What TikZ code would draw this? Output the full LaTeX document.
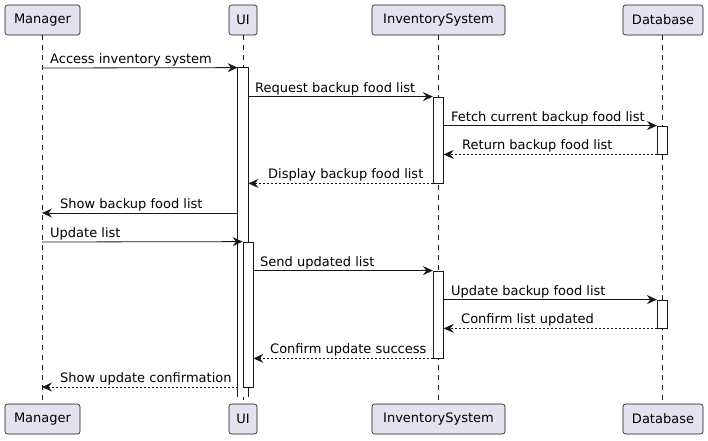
\documentclass[tikz,border=0pt]{standalone}
\usepackage{fontspec}
\setmainfont{DejaVu Sans}
\usetikzlibrary{arrows.meta}
\definecolor{partfill}{HTML}{E2E2F0}
\definecolor{ink}{HTML}{181818}
\begin{document}
\begin{tikzpicture}[x=1pt,y=-1pt,
 part/.style={draw=ink, fill=partfill, rounded corners=2.5pt, minimum height=30pt, inner sep=0pt, line width=0.6pt, font=\fontsize{13}{15}\selectfont, text=black},
 life/.style={draw=ink, dash pattern=on 5pt off 5pt, line width=0.5pt},
 actbox/.style={draw=ink, fill=white, line width=0.8pt, minimum width=10pt, inner sep=0pt},
 msg/.style={draw=ink, line width=0.8pt, -{Stealth[length=10pt,width=9pt,inset=3.5pt]}},
 ret/.style={msg, dash pattern=on 2pt off 2pt},
 lbl/.style={anchor=base west, inner sep=0pt, font=\fontsize{13}{15}\selectfont, text=black}
]
\useasboundingbox (0,0) rectangle (708,440);

% participants (top)
\node[part, minimum width=75pt]  (manT) at (42.5,20) {Manager};
\node[part, minimum width=28pt]  (uiT)  at (243,20)  {UI};
\node[part, minimum width=133pt] (invT) at (438.5,20) {InventorySystem};
\node[part, minimum width=80pt]  (dbT)  at (663,20)  {Database};
% participants (bottom)
\node[part, minimum width=75pt]  (manB) at (42.5,419) {Manager};
\node[part, minimum width=28pt]  (uiB)  at (243,419)  {UI};
\node[part, minimum width=133pt] (invB) at (438.5,419) {InventorySystem};
\node[part, minimum width=80pt]  (dbB)  at (663,419)  {Database};

% lifelines
\draw[life] (42,35) -- (42,404);
\draw[life] (243,35) -- (243,404);
\draw[life] (438,35) -- (438,404);
\draw[life] (662.5,35) -- (662.5,404);

% activations
\node[actbox, draw=none, minimum height=329pt] (ui1) at (243,232.5) {};
\draw[ink, line width=0.8pt] (ui1.south west) -- (ui1.north west) -- (ui1.north east) -- (ui1.south east);
\node[actbox, minimum height=145pt] (ui2) at (248,314.5) {};
\node[actbox, minimum height=86pt] (inv1) at (438.3,140) {};
\node[actbox, minimum height=28pt] (db1) at (662.3,140) {};
\node[actbox, minimum height=87pt] (inv2) at (438.3,314.5) {};
\node[actbox, minimum height=28pt] (db2) at (662.3,314) {};

% coordinates on Manager lifeline
\coordinate (m1) at (42,68);
\coordinate (m6) at (42,213);
\coordinate (m7) at (42,242);
\coordinate (m12) at (42,387);

% messages
\draw[msg] (m1) -- (ui1.north west);
\node[lbl] at (50,63) {Access inventory system};

\draw[msg] (ui1.east |- inv1.north) -- (inv1.north west);
\node[lbl] at (255,92) {Request backup food list};

\draw[msg] (inv1.east |- db1.north) -- (db1.north west);
\node[lbl] at (451,121) {Fetch current backup food list};

\draw[ret] (db1.south west) -- (inv1.east |- db1.south);
\node[lbl] at (462,149) {Return backup food list};

\draw[ret] (inv1.south west) -- (ui1.east |- inv1.south);
\node[lbl] at (268,178) {Display backup food list};

\draw[msg] (ui1.west |- m6) -- (m6);
\node[lbl] at (60,208) {Show backup food list};

\draw[msg] (m7) -- (ui2.north west);
\node[lbl] at (50,237) {Update list};

\draw[msg] (ui2.east |- inv2.north) -- (inv2.north west);
\node[lbl] at (260,266) {Send updated list};

\draw[msg] (inv2.east |- db2.north) -- (db2.north west);
\node[lbl] at (451,295) {Update backup food list};

\draw[ret] (db2.south west) -- (inv2.east |- db2.south);
\node[lbl] at (461,323) {Confirm list updated};

\draw[ret] (inv2.south west) -- (ui2.east |- inv2.south);
\node[lbl] at (270,353) {Confirm update success};

\draw[ret] (ui1.west |- m12) -- (m12);
\node[lbl] at (60,382) {Show update confirmation};
\end{tikzpicture}
\end{document}
